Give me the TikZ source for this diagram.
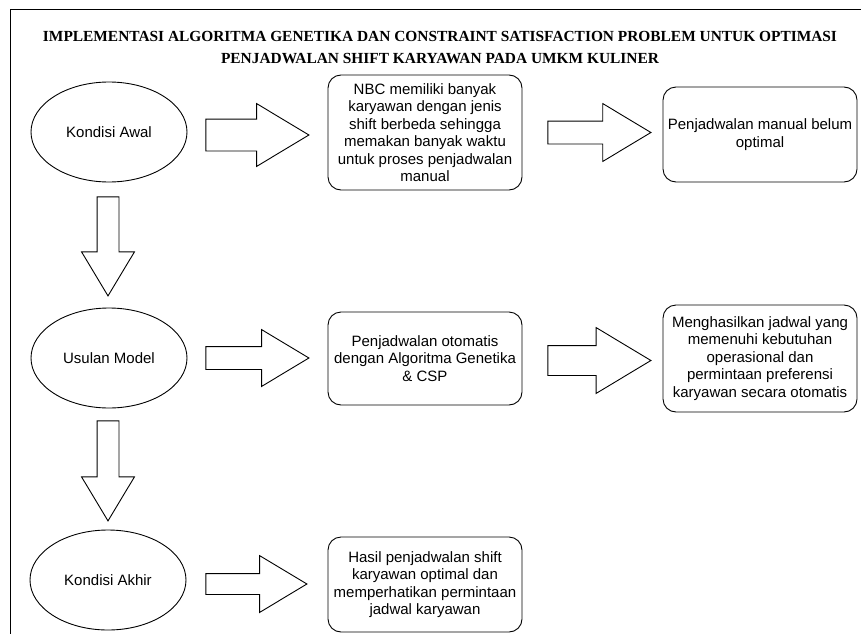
\documentclass[tikz,border=0pt]{standalone}
\usepackage{fontspec}
\setmainfont{Liberation Sans}
\newfontfamily\judulfont{Liberation Serif}
\usetikzlibrary{shapes.geometric,shapes.arrows,calc}

\begin{document}
\begin{tikzpicture}[x=1pt, y=-1pt,
        kondisi/.style={draw, ellipse, line width=0.9pt, minimum width=156pt, minimum height=100pt, inner sep=0pt, font=\fontsize{15}{17.5}\selectfont},
        kotak/.style={draw, rounded corners=13pt, line width=0.9pt, align=center, minimum width=194pt, inner xsep=1pt, font=\fontsize{15}{17.5}\selectfont},
        panah/.style 2 args={draw, single arrow, anchor=tail, line width=0.9pt, inner xsep=0pt, inner ysep=#1, single arrow head extend=#2, single arrow tip angle=62, minimum height=103pt}]
            \useasboundingbox (0,0) rectangle (861,634);
            \draw[line width=1pt] (861,10) -- (10,10) -- (10,634);
            \node[font=\judulfont\bfseries\fontsize{15.4}{22}\selectfont, align=center] (judul) at (440,48)
                {IMPLEMENTASI ALGORITMA GENETIKA DAN CONSTRAINT SATISFACTION PROBLEM UNTUK OPTIMASI\\PENJADWALAN SHIFT KARYAWAN PADA UMKM KULINER};

            \node[kondisi] (awal) at (109,132) {Kondisi Awal};
            \node[kondisi] (usulan) at (109,358) {Usulan Model};
            \node[kondisi] (akhir) at (108,580) {Kondisi Akhir};

            \node[kotak, minimum height=115pt] (nbc) at (425,132.5) {NBC memiliki banyak\\karyawan dengan jenis\\shift berbeda sehingga\\memakan banyak waktu\\untuk proses penjadwalan\\manual};
            \node[kotak, minimum height=95pt] (manual) at (760,134.5) {Penjadwalan manual belum\\optimal};
            \node[kotak, minimum height=93pt] (otomatis) at (425,358.5) {Penjadwalan otomatis\\dengan Algoritma Genetika\\\& CSP};
            \node[kotak, minimum height=107pt] (jadwal) at (760,358.5) {Menghasilkan jadwal yang\\memenuhi kebutuhan\\operasional dan\\permintaan preferensi\\karyawan secara otomatis};
            \node[kotak, minimum height=95pt] (hasil) at (425,584.5) {Hasil penjadwalan shift\\karyawan optimal dan\\memperhatikan permintaan\\jadwal karyawan};

            \node[panah={15.5pt}{15.5pt}] (p1) at ($(awal.east)+(18,3)$) {};
            \node[panah={11pt}{17.5pt}] (p2) at ($(nbc.east)+(25,0)$) {};
            \node[panah={11pt}{17pt}] (p3) at ($(usulan.east)+(18,0)$) {};
            \node[panah={14.5pt}{18pt}] (p4) at ($(otomatis.east)+(25,2)$) {};
            \node[panah={10pt}{18pt}, minimum height=101pt] (p5) at ($(akhir.east)+(19,4)$) {};
            \node[panah={10.5pt}{15.5pt}, minimum height=99pt, rotate=-90] (p6) at ($(awal.south)+(-1,14)$) {};
            \node[panah={10.5pt}{15.5pt}, minimum height=100pt, rotate=-90] (p7) at ($(usulan.south)+(-1,12)$) {};
        \end{tikzpicture}
\end{document}
